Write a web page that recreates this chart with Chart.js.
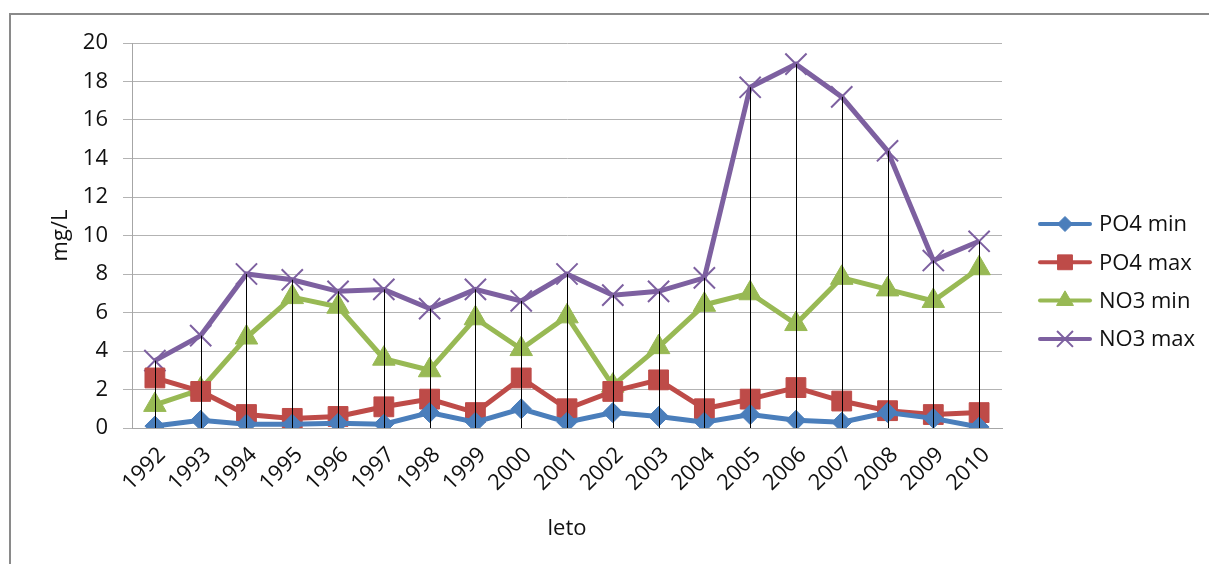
<!DOCTYPE html>
<html>
<head>
<meta charset="utf-8">
<script src="https://cdn.jsdelivr.net/npm/chart.js@4.4.1/dist/chart.umd.min.js"></script>
<style>
  html, body { margin: 0; padding: 0; background: #fff; }
  #wrap { position: relative; width: 1209px; height: 564px; }
</style>
</head>
<body>
<div id="wrap"><canvas id="c" width="1209" height="564"></canvas></div>
<script>
// Measured concentrations per year (mg/L)
const years = ['1992','1993','1994','1995','1996','1997','1998','1999','2000','2001',
               '2002','2003','2004','2005','2006','2007','2008','2009','2010'];
const po4Min = [0.1, 0.4, 0.2, 0.2, 0.25, 0.2, 0.8, 0.3, 1.0, 0.3, 0.8, 0.6, 0.3, 0.7, 0.4, 0.3, 0.8, 0.5, 0.05];
const po4Max = [2.6, 1.9, 0.7, 0.5, 0.6, 1.1, 1.5, 0.8, 2.6, 1.0, 1.9, 2.5, 1.0, 1.5, 2.1, 1.4, 0.9, 0.7, 0.8];
const no3Min = [1.2, 2.0, 4.7, 6.8, 6.3, 3.6, 3.0, 5.7, 4.1, 5.8, 2.2, 4.2, 6.4, 7.0, 5.4, 7.8, 7.2, 6.6, 8.3];
const no3Max = [3.5, 4.8, 8.0, 7.7, 7.1, 7.2, 6.2, 7.2, 6.6, 8.0, 6.9, 7.1, 7.8, 17.7, 18.9, 17.2, 14.4, 8.7, 9.7];
const seriesNames = ['PO4 min', 'PO4 max', 'NO3 min', 'NO3 max'];
const yTicks = [0, 2, 4, 6, 8, 10, 12, 14, 16, 18, 20];

const FONT = '"Open Sans", "Liberation Sans", sans-serif';
const TEXT = '#111';
const SIZE = 22;

function series(label, data, color, style, radius, bw) {
  return {
    label, data,
    borderColor: color, backgroundColor: color,
    borderWidth: 5, tension: 0,
    pointStyle: style, pointRadius: radius, pointHoverRadius: radius,
    pointBackgroundColor: color, pointBorderColor: color, pointBorderWidth: bw
  };
}

// Outer frame around the chart
const framePlugin = {
  id: 'frame',
  beforeDraw(chart) {
    const ctx = chart.ctx;
    ctx.save();
    ctx.fillStyle = '#fff';
    ctx.fillRect(0, 0, chart.width, chart.height);
    ctx.strokeStyle = '#8a8a8a';
    ctx.lineWidth = 2;
    ctx.strokeRect(10, 14, chart.width + 20, chart.height + 40);
    ctx.restore();
  }
};

// Vertical drop lines from the highest value of each year down to zero
const dropLinePlugin = {
  id: 'dropLines',
  afterDatasetsDraw(chart) {
    const ctx = chart.ctx;
    const xs = chart.scales.x, ys = chart.scales.y;
    const sets = chart.data.datasets;
    ctx.save();
    ctx.strokeStyle = '#000';
    ctx.lineWidth = 1;
    chart.data.labels.forEach((_, i) => {
      const top = Math.max(...sets.map(d => d.data[i]));
      const x = Math.round(xs.getPixelForValue(i)) + 0.5;
      ctx.beginPath();
      ctx.moveTo(x, ys.getPixelForValue(top));
      ctx.lineTo(x, ys.getPixelForValue(0));
      ctx.stroke();
    });
    ctx.restore();
  }
};

// Legend with line-and-marker samples on the right
const legendPlugin = {
  id: 'sideLegend',
  afterDraw(chart) {
    const ctx = chart.ctx;
    const x0 = 1040, x1 = 1090, yStart = 224, step = 38.3;
    ctx.save();
    chart.data.datasets.forEach((d, i) => {
      const y = yStart + i * step;
      ctx.strokeStyle = d.borderColor;
      ctx.lineWidth = 4;
      ctx.lineCap = 'round';
      ctx.beginPath();
      ctx.moveTo(x0, y);
      ctx.lineTo(x1, y);
      ctx.stroke();
      ctx.fillStyle = d.pointBackgroundColor;
      ctx.strokeStyle = d.pointBorderColor;
      ctx.lineWidth = d.pointBorderWidth;
      ctx.lineCap = 'butt';
      Chart.helpers.drawPoint(ctx, {
        pointStyle: d.pointStyle, radius: d.pointRadius * 0.75,
        borderWidth: d.pointBorderWidth, rotation: 0
      }, (x0 + x1) / 2, y);
      ctx.fillStyle = TEXT;
      ctx.font = SIZE + 'px ' + FONT;
      ctx.textBaseline = 'middle';
      ctx.textAlign = 'left';
      ctx.fillText(d.label, 1099, y + 1);
    });
    ctx.restore();
  }
};

new Chart(document.getElementById('c'), {
  type: 'line',
  data: {
    labels: years,
    datasets: [
      series(seriesNames[0], po4Min, '#4a7ebb', 'rectRot', 10, 1),
      series(seriesNames[1], po4Max, '#be4b48', 'rect', 14, 1),
      series(seriesNames[2], no3Min, '#98b954', 'triangle', 13, 1),
      series(seriesNames[3], no3Max, '#7d60a0', 'crossRot', 15, 2)
    ]
  },
  options: {
    responsive: false,
    animation: false,
    devicePixelRatio: 1,
    layout: { padding: { top: 43, right: 207, bottom: 0, left: 0 } },
    plugins: { legend: { display: false }, tooltip: { enabled: false } },
    scales: {
      x: {
        offset: true,
        grid: { display: false },
        border: { display: true, color: '#a6a6a6', width: 1 },
        ticks: {
          autoSkip: false, maxRotation: 45, minRotation: 45, labelOffset: 7,
          color: TEXT, font: { family: FONT, size: SIZE }, padding: 6
        },
        title: {
          display: true, text: 'leto', color: TEXT,
          font: { family: FONT, size: SIZE }, padding: { top: 0, bottom: 22 }
        },
        afterFit(scale) { scale.height = 136; }
      },
      y: {
        min: 0, max: 20,
        afterBuildTicks(scale) { scale.ticks = yTicks.map(v => ({ value: v })); },
        grid: { color: '#b3b3b3', lineWidth: 1, tickLength: 9, drawTicks: true },
        border: { display: true, color: '#a6a6a6', width: 1 },
        ticks: { color: TEXT, font: { family: FONT, size: SIZE }, padding: 15 },
        title: {
          display: true, text: 'mg/L', color: TEXT,
          font: { family: FONT, size: SIZE }, padding: { top: 48, bottom: 0 }
        },
        afterFit(scale) { scale.width = 132; }
      }
    }
  },
  plugins: [framePlugin, dropLinePlugin, legendPlugin]
});
</script>
</body>
</html>
